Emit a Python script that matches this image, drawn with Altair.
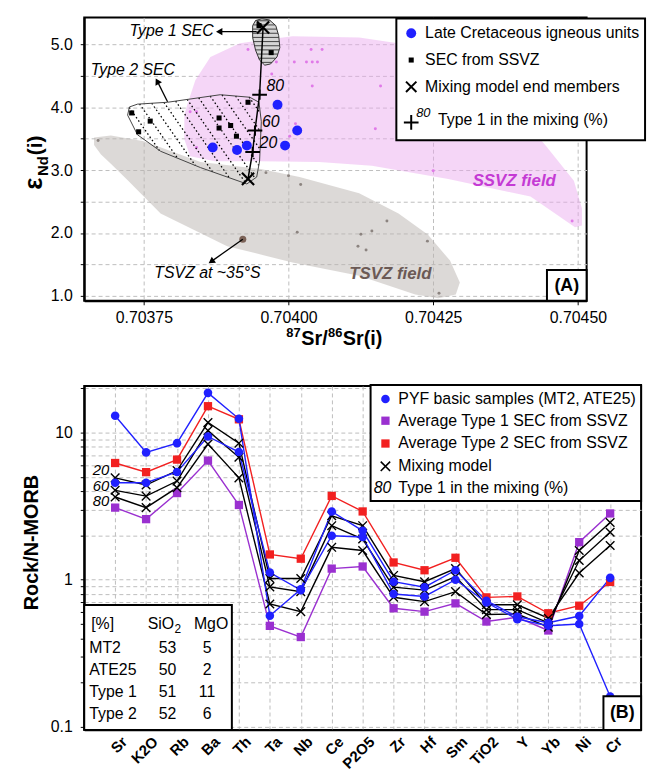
import altair as alt
import numpy as np
import pandas as pd

FONT = "Liberation Sans"
BLUE = "#2020ff"
PURPLE = "#9a30d0"
RED = "#f22020"
PINKDOT = "#e07ae8"
GRAYDOT = "#8c8480"
BROWN = "#7b6257"

# ================= Panel (A) data =================
late_sr = [0.703869, 0.703911, 0.703928, 0.703994, 0.703981, 0.704015]
late_nd = [3.36, 3.32, 3.39, 3.39, 4.04, 3.63]

sec_sr = [0.703729, 0.703761, 0.703741, 0.703930, 0.703880, 0.703880, 0.703900, 0.703910, 0.703949, 0.703970]
sec_nd = [3.91, 3.78, 3.61, 4.08, 3.83, 3.67, 3.71, 3.54, 5.30, 4.87]

end_sr = [0.703956, 0.703930]
end_nd = [5.27, 2.86]

mix_label = ["20", "60", "80"]
mix_sr = [0.703938, 0.703942, 0.703950]
mix_nd = [3.29, 3.63, 4.20]

ssvz_dot_sr = [0.70393, 0.704039, 0.704058, 0.703979, 0.70401, 0.704031, 0.704041, 0.70405, 0.703971,
               0.704041, 0.704159, 0.70383, 0.703841, 0.703841, 0.704012, 0.704002, 0.70415, 0.70425, 0.70449]
ssvz_dot_nd = [4.92, 4.92, 4.92, 4.72, 4.72, 4.72, 4.72, 4.72, 4.53,
               4.34, 4.34, 3.93, 3.93, 3.36, 3.74, 3.54, 3.66, 2.99, 2.19]

tsvz_dot_sr = [0.703671, 0.703961, 0.704, 0.704021, 0.704015, 0.70412, 0.704134, 0.704125, 0.704144, 0.70417, 0.70424, 0.70426]
tsvz_dot_nd = [3.47, 2.96, 2.91, 2.77, 2.01, 1.79, 1.73, 1.98, 2.03, 2.19, 1.87, 1.04]

tsvz35_sr = [0.703921]
tsvz35_nd = [1.90]

# field outlines
ssvz_poly_sr = [0.703825, 0.703839, 0.703865, 0.703916, 0.704007, 0.704122, 0.704247, 0.704361, 0.704447,
                0.704493, 0.704507, 0.704507, 0.704495, 0.704418, 0.704276, 0.704144, 0.704053, 0.70395,
                0.703873, 0.70383, 0.70382, 0.70382]
ssvz_poly_nd = [4.04, 4.43, 4.80, 5.02, 5.13, 5.11, 4.94, 4.31, 3.36,
                2.83, 2.39, 2.12, 2.09, 2.58, 2.86, 3.07, 3.13, 3.14,
                3.14, 3.22, 3.49, 3.88]

tsvz_poly_sr = [0.703664, 0.703693, 0.70375, 0.703848, 0.70395, 0.704019, 0.704122, 0.70419, 0.704241,
                0.704279, 0.704296, 0.704289, 0.704259, 0.704219, 0.704122, 0.704007, 0.703894, 0.703779,
                0.703723, 0.703693, 0.703676, 0.703664]
tsvz_poly_nd = [3.52, 3.55, 3.46, 3.13, 3.02, 2.89, 2.63, 2.31, 1.97,
                1.56, 1.21, 1.02, 0.96, 1.02, 1.32, 1.53, 1.79, 2.31,
                2.83, 3.10, 3.25, 3.40]

type2_poly_sr = [0.703725, 0.703722, 0.703739, 0.703779, 0.703848, 0.703928, 0.703945, 0.70395,
                 0.703953, 0.703949, 0.703933, 0.703882, 0.703791, 0.703739]
type2_poly_nd = [4.005, 3.875, 3.5625, 3.30, 3.04, 2.78, 2.89, 3.145,
                 3.77, 4.08, 4.16, 4.20, 4.08, 4.05]

type1_poly_sr = [0.703954, 0.703967, 0.703978, 0.703983, 0.703985, 0.70398, 0.703969, 0.703959,
                 0.70395, 0.703943, 0.703938, 0.703938, 0.703943]
type1_poly_nd = [5.41, 5.39, 5.30, 5.14, 4.95, 4.80, 4.69, 4.67,
                 4.75, 4.91, 5.11, 5.30, 5.38]

# annotations (A)
ann_text = ["Type 1 SEC", "Type 2 SEC", "TSVZ at ~35°S"]
ann_sr = [0.703798, 0.703731, 0.70386]
ann_nd = [5.22, 4.59, 1.37]
arrow_from_sr = [0.703945, 0.703791, 0.703921]
arrow_from_nd = [5.204, 4.088, 1.90]
arrow_to_sr = [0.703882, 0.703774, 0.703868]
arrow_to_nd = [5.204, 4.40, 1.556]
arrow_angle = [270, 332, 235]

field_text = ["SSVZ field", "TSVZ field"]
field_sr = [0.704390, 0.704176]
field_nd = [2.83, 1.34]
field_col = ["#c43ad4", "#6b5a55"]

# ================= Panel (B) data =================
elements = ["Sr", "K2O", "Rb", "Ba", "Th", "Ta", "Nb", "Ce", "P2O5", "Zr", "Hf", "Sm", "TiO2", "Y", "Yb", "Ni", "Cr"]
mt2 = [13.0, 7.33, 8.47, 18.6, 12.4, 0.57, 0.86, 2.91, 2.15, 0.97, 0.89, 1.16, 0.72, 0.56, 0.51, 0.567, 1.03]
ate25 = [4.56, 4.56, 5.40, 9.4, 7.37, 1.12, 0.85, 1.99, 1.95, 0.80, 0.77, 1.00, 0.70, 0.54, 0.487, 0.50, 0.161]
type1 = [3.09, 2.58, 3.88, 6.45, 3.22, 0.486, 0.408, 1.19, 1.23, 0.64, 0.607, 0.691, 0.52, 0.556, 0.452, 1.80, 2.82]
type2 = [6.21, 5.38, 6.55, 15.1, 12.3, 1.485, 1.39, 3.71, 2.91, 1.31, 1.16, 1.41, 0.759, 0.77, 0.592, 0.666, 0.966]
mix20 = [4.92, 4.40, 5.52, 11.7, 8.47, 1.02, 1.02, 2.72, 2.33, 1.07, 0.97, 1.19, 0.676, 0.676, 0.548, 1.11, 1.71]
mix60 = [4.05, 3.70, 4.68, 10.3, 6.79, 0.894, 0.83, 2.33, 1.89, 0.89, 0.85, 1.05, 0.626, 0.626, 0.51, 1.35, 2.10]
mix80 = [3.65, 3.09, 4.22, 8.34, 4.92, 0.684, 0.607, 1.66, 1.58, 0.76, 0.71, 0.83, 0.58, 0.585, 0.476, 1.58, 2.45]
mix_tags = ["20", "60", "80"]
mix_tag_vals = [5.55, 4.35, 3.4]

table_rows = ["MT2", "ATE25", "Type 1", "Type 2"]
table_sio2 = ["53", "50", "51", "52"]
table_mgo = ["5", "2", "11", "6"]

# ================= geometry helpers =================
AX0, AX1 = 0.703647, 0.704515
AY0, AY1 = 0.92, 5.43
AW, AH = 507, 286
BW, BH = 562, 347


def to_px(x, y):
    return ((x - AX0) / (AX1 - AX0) * AW, (AY1 - y) / (AY1 - AY0) * AH)


def from_px(X, Y):
    return (AX0 + X / AW * (AX1 - AX0), AY1 - Y / AH * (AY1 - AY0))


def hatch(poly_x, poly_y, angle_deg, spacing):
    pts = [to_px(x, y) for x, y in zip(poly_x, poly_y)]
    a = np.radians(angle_deg)
    d = (np.cos(a), np.sin(a))
    n = (-np.sin(a), np.cos(a))
    proj = [n[0] * p[0] + n[1] * p[1] for p in pts]
    m = len(pts)
    segs = []
    c = min(proj) + spacing / 2
    while c < max(proj):
        hits = []
        for i in range(m):
            p, q = pts[i], pts[(i + 1) % m]
            pp, pq = proj[i], proj[(i + 1) % m]
            if (pp - c) * (pq - c) < 0:
                t = (c - pp) / (pq - pp)
                X = p[0] + t * (q[0] - p[0])
                Y = p[1] + t * (q[1] - p[1])
                hits.append((X * d[0] + Y * d[1], X, Y))
        hits.sort()
        for k in range(0, len(hits) - 1, 2):
            x1, y1 = from_px(hits[k][1], hits[k][2])
            x2, y2 = from_px(hits[k + 1][1], hits[k + 1][2])
            segs.append(dict(x=x1, y=y1, x2=x2, y2=y2))
        c += spacing
    return pd.DataFrame(segs)


def poly_df(xs, ys):
    return pd.DataFrame({"x": xs, "y": ys, "i": list(range(len(xs)))})


def xy_df(xs, ys, **extra):
    d = pd.DataFrame({"x": xs, "y": ys})
    for k, v in extra.items():
        d[k] = v
    return d


ONE = pd.DataFrame({"a": [0]})
XSHAPE = "M-1,-1L1,1M-1,1L1,-1"
PLUS = "M-1,0L1,0M0,-0.7L0,0.7"

xA = alt.Scale(domain=[AX0, AX1], nice=False, zero=False)
yA = alt.Scale(domain=[AY0, AY1], nice=False, zero=False)
axXA = alt.Axis(values=[0.70375, 0.704, 0.70425, 0.7045], format=".5f", title=None, grid=True,
                tickSize=4, labelPadding=5, labelFontSize=16)
axYA = alt.Axis(values=[1, 1.5, 2, 2.5, 3, 3.5, 4, 4.5, 5], title=None, grid=True, tickSize=4,
                labelPadding=8, labelFontSize=16,
                labelExpr="datum.value % 1 == 0 ? format(datum.value, '.1f') : ''")


def XA(f="x"):
    return alt.X(f"{f}:Q", scale=xA, axis=axXA)


def YA(f="y"):
    return alt.Y(f"{f}:Q", scale=yA, axis=axYA)


def txt(x, y, s, size=16, **kw):
    return alt.Chart(ONE).mark_text(text=s, fontSize=size, font=FONT, **kw).encode(
        x=alt.value(x), y=alt.value(y))


def sym(x, y, shape, size, **kw):
    return alt.Chart(ONE).mark_point(shape=shape, size=size, **kw).encode(x=alt.value(x), y=alt.value(y))


# ---------- Panel A layers ----------
tsvz_field = alt.Chart(poly_df(tsvz_poly_sr, tsvz_poly_nd)).mark_line(
    interpolate="linear-closed", fill="#b9b3af", fillOpacity=0.5, strokeOpacity=0).encode(
    x=XA(), y=YA(), order="i:Q")
ssvz_field = alt.Chart(poly_df(ssvz_poly_sr, ssvz_poly_nd)).mark_line(
    interpolate="linear-closed", fill="#eaaaef", fillOpacity=0.48, strokeOpacity=0).encode(
    x=XA(), y=YA(), order="i:Q")
gray_dots = alt.Chart(xy_df(tsvz_dot_sr, tsvz_dot_nd)).mark_circle(size=9, color=GRAYDOT, opacity=1).encode(x=XA(), y=YA())
pink_dots = alt.Chart(xy_df(ssvz_dot_sr, ssvz_dot_nd)).mark_circle(size=9, color=PINKDOT, opacity=1).encode(x=XA(), y=YA())
brown_dot = alt.Chart(xy_df(tsvz35_sr, tsvz35_nd)).mark_circle(size=50, color=BROWN, opacity=1).encode(x=XA(), y=YA())

t2_hatch = alt.Chart(hatch(type2_poly_sr, type2_poly_nd, 55, 10.5)).mark_rule(
    color="black", strokeDash=[1.5, 2.5], strokeWidth=1.3).encode(
    x=XA(), y=YA(), x2="x2:Q", y2="y2:Q")
t2_outline = alt.Chart(poly_df(type2_poly_sr, type2_poly_nd)).mark_line(
    interpolate="linear-closed", color="#444444", strokeWidth=1).encode(x=XA(), y=YA(), order="i:Q")

t1_fill = alt.Chart(poly_df(type1_poly_sr, type1_poly_nd)).mark_line(
    interpolate="linear-closed", fill="#d6d6d6", color="#333333", strokeWidth=1).encode(
    x=XA(), y=YA(), order="i:Q")
t1_hatch = alt.Chart(hatch(type1_poly_sr, type1_poly_nd, 0, 4.2)).mark_rule(
    color="#333333", strokeWidth=0.9).encode(x=XA(), y=YA(), x2="x2:Q", y2="y2:Q")

mix_path = alt.Chart(poly_df([end_sr[1]] + mix_sr + [end_sr[0]], [end_nd[1]] + mix_nd + [end_nd[0]])).mark_line(
    color="black", strokeWidth=1.5).encode(x=XA(), y=YA(), order="i:Q")
mix_ticks = alt.Chart(xy_df(mix_sr, mix_nd)).mark_point(shape=PLUS, size=220, color="black",
                                                        strokeWidth=2, filled=False, opacity=1).encode(x=XA(), y=YA())
mix_labels = alt.Chart(xy_df(mix_sr, mix_nd, t=mix_label)).mark_text(
    font=FONT, fontSize=16, fontStyle="italic", align="left", dx=7, dy=-9).encode(x=XA(), y=YA(), text="t:N")

sec_pts = alt.Chart(xy_df(sec_sr, sec_nd)).mark_square(size=26, color="black", opacity=1).encode(x=XA(), y=YA())
late_pts = alt.Chart(xy_df(late_sr, late_nd)).mark_circle(size=100, color=BLUE, opacity=1).encode(x=XA(), y=YA())
end_pts = alt.Chart(xy_df(end_sr, end_nd)).mark_point(shape=XSHAPE, size=150, color="black",
                                                      strokeWidth=2.2, filled=False, opacity=1).encode(x=XA(), y=YA())

arrows = pd.DataFrame({"x": arrow_from_sr, "y": arrow_from_nd, "x2": arrow_to_sr, "y2": arrow_to_nd,
                       "ang": arrow_angle})
arrow_lines = alt.Chart(arrows).mark_rule(color="black", strokeWidth=1.3).encode(
    x=XA(), y=YA(), x2="x2:Q", y2="y2:Q")
arrow_heads = alt.Chart(arrows).mark_point(shape="triangle", size=55, filled=True, color="black", opacity=1).encode(
    x=XA("x2"), y=YA("y2"), angle=alt.Angle("ang:Q", scale=None))
ann = alt.Chart(xy_df(ann_sr, ann_nd, t=ann_text)).mark_text(
    font=FONT, fontSize=16, fontStyle="italic").encode(x=XA(), y=YA(), text="t:N")
fields = alt.Chart(xy_df(field_sr, field_nd, t=field_text, c=field_col)).mark_text(
    font=FONT, fontSize=17, fontStyle="italic", fontWeight="bold").encode(
    x=XA(), y=YA(), text="t:N", color=alt.Color("c:N", scale=None))

# legend (A)
legA = [
    alt.Chart(ONE).mark_rect(fill="white", stroke="black", strokeWidth=2).encode(
        x=alt.value(315), x2=alt.value(566), y=alt.value(1), y2=alt.value(124)),
    sym(330, 16, "circle", 100, filled=True, color=BLUE, opacity=1),
    sym(330, 43, "square", 26, filled=True, color="black", opacity=1),
    sym(330, 70, XSHAPE, 110, filled=False, color="black", strokeWidth=2, opacity=1),
    sym(330, 106, "M-1,0L1,0M0,-1L0,1", 220, filled=False, color="black", strokeWidth=2, opacity=1),
    txt(344, 16, "Late Cretaceous igneous units", 16, align="left", baseline="middle"),
    txt(344, 43, "SEC from SSVZ", 16, align="left", baseline="middle"),
    txt(344, 70, "Mixing model end members", 16, align="left", baseline="middle"),
    txt(335, 96, "80", 13, align="left", baseline="middle", fontStyle="italic"),
    txt(357, 104, "Type 1 in the mixing (%)", 16, align="left", baseline="middle"),
]
# (A) tag box
tagA = [
    alt.Chart(ONE).mark_rect(fill="white", stroke="black", strokeWidth=2).encode(
        x=alt.value(467), x2=alt.value(507), y=alt.value(255), y2=alt.value(286)),
    txt(487, 271, "(A)", 18, fontWeight="bold", align="center", baseline="middle"),
]
# axis titles (A)
titA = [
    txt(-43, 174, "ε", 26, fontWeight="bold", angle=270, align="left", baseline="alphabetic"),
    txt(-37, 160, "Nd", 15, fontWeight="bold", angle=270, align="left", baseline="alphabetic"),
    txt(-43, 139, "(i)", 21, fontWeight="bold", angle=270, align="left", baseline="alphabetic"),
    txt(204, 323, "87", 13, fontWeight="bold", align="left", baseline="alphabetic"),
    txt(219, 331, "Sr/", 20, fontWeight="bold", align="left", baseline="alphabetic"),
    txt(246, 323, "86", 13, fontWeight="bold", align="left", baseline="alphabetic"),
    txt(261, 331, "Sr(i)", 20, fontWeight="bold", align="left", baseline="alphabetic"),
]

panelA = alt.layer(
    tsvz_field, ssvz_field, gray_dots, pink_dots, brown_dot,
    t2_hatch, t2_outline, t1_fill, t1_hatch,
    mix_path, mix_ticks, mix_labels, sec_pts, late_pts, end_pts,
    arrow_lines, arrow_heads, ann, fields,
    *legA, *tagA, *titA
).properties(width=AW, height=AH)

# ---------- Panel B ----------
series_names = ["Average Type 2 SEC", "Average Type 1 SEC", "Mix 20", "Mix 60", "Mix 80", "MT2", "ATE25"]
series_vals = [type2, type1, mix20, mix60, mix80, mt2, ate25]
series_cols = [RED, PURPLE, "black", "black", "black", BLUE, BLUE]
rows = []
for nm, vals in zip(series_names, series_vals):
    for el, v in zip(elements, vals):
        rows.append({"series": nm, "element": el, "value": v})
dfB = pd.DataFrame(rows)

xB = alt.Scale(type="point", domain=elements, padding=1.3)
yB = alt.Scale(type="log", domain=[0.0955, 20.7], nice=False)
yticks = [0.1, 0.2, 0.3, 0.4, 0.5, 0.6, 0.7, 0.8, 0.9, 1, 2, 3, 4, 5, 6, 7, 8, 9, 10, 20]
axXB = alt.Axis(title=None, grid=True, ticks=False, labelAngle=315, labelAlign="right", labelBaseline="middle",
                labelFontWeight="bold", labelFontSize=15, labelOffset=9, labelPadding=9)
axYB = alt.Axis(values=yticks, title=None, grid=True, tickSize=4, labelPadding=8, labelFontSize=16,
                labelExpr="datum.value == 0.1 || datum.value == 1 || datum.value == 10 ? datum.value : ''")


def XB():
    return alt.X("element:N", scale=xB, axis=axXB, sort=elements)


def YB():
    return alt.Y("value:Q", scale=yB, axis=axYB)


colorB = alt.Color("series:N", scale=alt.Scale(domain=series_names, range=series_cols), legend=None)

linesB = alt.Chart(dfB).mark_line(strokeWidth=1.4).encode(x=XB(), y=YB(), color=colorB,
                                                          order=alt.Order("series:N"))
sq_pts = alt.Chart(dfB).transform_filter(
    alt.FieldOneOfPredicate(field="series", oneOf=["Average Type 2 SEC", "Average Type 1 SEC"])
).mark_square(size=70, opacity=1).encode(x=XB(), y=YB(), color=colorB)
x_pts = alt.Chart(dfB).transform_filter(
    alt.FieldOneOfPredicate(field="series", oneOf=["Mix 20", "Mix 60", "Mix 80"])
).mark_point(shape=XSHAPE, size=75, filled=False, strokeWidth=1.4, color="black", opacity=1).encode(x=XB(), y=YB())
blue_pts = alt.Chart(dfB).transform_filter(
    alt.FieldOneOfPredicate(field="series", oneOf=["MT2", "ATE25"])
).mark_circle(size=75, color=BLUE, opacity=1).encode(x=XB(), y=YB())
mix_tag = alt.Chart(pd.DataFrame({"element": ["Sr"] * 3, "value": mix_tag_vals, "t": mix_tags})).mark_text(
    font=FONT, fontSize=15, fontStyle="italic", align="right", dx=-6).encode(x=XB(), y=YB(), text="t:N")

legB = [
    alt.Chart(ONE).mark_rect(fill="white", stroke="black", strokeWidth=2).encode(
        x=alt.value(289), x2=alt.value(562), y=alt.value(-1), y2=alt.value(116)),
    sym(304, 13, "circle", 75, filled=True, color=BLUE, opacity=1),
    sym(304, 35, "square", 70, filled=True, color=PURPLE, opacity=1),
    sym(304, 58, "square", 70, filled=True, color=RED, opacity=1),
    sym(304, 81, XSHAPE, 90, filled=False, color="black", strokeWidth=1.6, opacity=1),
    txt(317, 13, "PYF basic samples (MT2, ATE25)", 16, align="left", baseline="middle"),
    txt(317, 35, "Average Type 1 SEC from SSVZ", 16, align="left", baseline="middle"),
    txt(317, 58, "Average Type 2 SEC from SSVZ", 16, align="left", baseline="middle"),
    txt(317, 81, "Mixing model", 16, align="left", baseline="middle"),
    txt(310, 103, "80", 16, align="right", baseline="middle", fontStyle="italic"),
    txt(317, 103, "Type 1 in the mixing (%)", 16, align="left", baseline="middle"),
]
table = [
    alt.Chart(ONE).mark_rect(fill="white", stroke="black", strokeWidth=2).encode(
        x=alt.value(0), x2=alt.value(149), y=alt.value(221), y2=alt.value(347)),
    txt(7, 240, "[%]", 16, align="left", baseline="middle"),
    txt(64, 240, "SiO", 16, align="left", baseline="middle"),
    txt(91, 245, "2", 12, align="left", baseline="middle"),
    txt(128, 240, "MgO", 16, align="center", baseline="middle"),
]
for k, (r, s, m) in enumerate(zip(table_rows, table_sio2, table_mgo)):
    yy = 264 + k * 22.5
    table += [txt(5, yy, r, 16, align="left", baseline="middle"),
              txt(84, yy, s, 16, align="center", baseline="middle"),
              txt(124, yy, m, 16, align="center", baseline="middle")]
tagB = [
    alt.Chart(ONE).mark_rect(fill="white", stroke="black", strokeWidth=2).encode(
        x=alt.value(524), x2=alt.value(562), y=alt.value(313), y2=alt.value(347)),
    txt(543, 330, "(B)", 18, fontWeight="bold", align="center", baseline="middle"),
]
titB = [txt(-53, 158, "Rock/N-MORB", 20, fontWeight="bold", angle=270, align="center", baseline="middle")]

panelB = alt.layer(
    linesB, sq_pts, x_pts, blue_pts, mix_tag, *legB, *table, *tagB, *titB
).properties(width=BW, height=BH)

chart = alt.vconcat(panelA, panelB, spacing=86, bounds="flush").properties(
    padding={"left": 20, "top": 12, "right": 4, "bottom": 4}
).configure(font=FONT).configure_axis(
    labelFont=FONT, labelColor="black", domainColor="black", domainWidth=2, tickColor="black",
    gridColor="#bdbdbd", gridDash=[4, 3], gridWidth=1
).configure_view(stroke="black", strokeWidth=2)

chart.save("out.html", embed_options={"renderer": "svg", "actions": False})
